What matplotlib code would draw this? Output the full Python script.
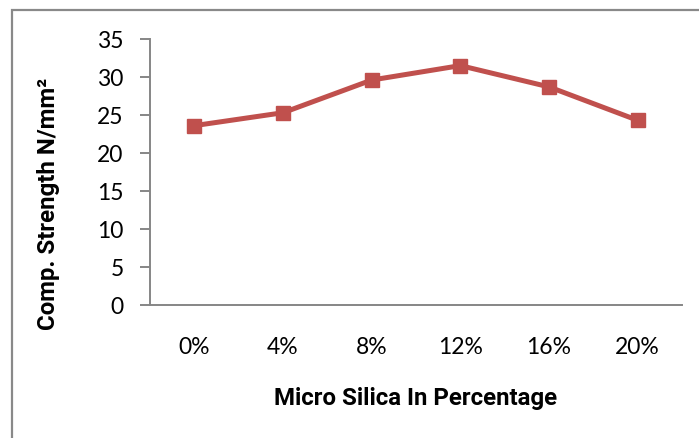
import matplotlib
matplotlib.use("Agg")
import matplotlib.pyplot as plt
from matplotlib.patches import Rectangle

# data
categories = ["0%", "4%", "8%", "12%", "16%", "20%"]
strength = [23.6, 25.3, 29.6, 31.5, 28.7, 24.3]
yticks = [0, 5, 10, 15, 20, 25, 30, 35]

W, H = 699, 438
fig = plt.figure(figsize=(W / 100, H / 100), dpi=100)
ax = fig.add_axes([150 / W, 1 - 305 / H, 532 / W, 266 / H])

x = list(range(len(categories)))
ax.plot(x, strength, color="#C0504D", lw=3.6, marker="s", ms=10.5,
        mfc="#C0504D", mec="#C0504D", solid_joinstyle="miter")

ax.set_xlim(-0.5, len(categories) - 0.5)
ax.set_ylim(0, 35)
ax.set_xticks(x)
ax.set_xticklabels(categories)
ax.set_yticks(yticks)

for s in ["top", "right"]:
    ax.spines[s].set_visible(False)
for s in ["left", "bottom"]:
    ax.spines[s].set_color("#868686")
    ax.spines[s].set_linewidth(1.4)

tick_family = ["Lato", "DejaVu Sans"]
ax.tick_params(axis="y", length=7, width=1.4, color="#868686", pad=12)
ax.tick_params(axis="x", length=0, pad=23)
for lab in ax.get_xticklabels() + ax.get_yticklabels():
    lab.set_fontfamily(tick_family)
    lab.set_fontsize(16.5)

lab_font = dict(family=["Roboto", "DejaVu Sans"], size=17.3, weight="bold")
fig.text(416 / W, 1 - 398 / H, "Micro Silica In Percentage", ha="center",
         va="center", **lab_font)
fig.text(49 / W, 1 - 204 / H, "Comp. Strength N/mm²", ha="center",
         va="center", rotation=90, **lab_font)

# outer chart-area border
fig.patches.append(Rectangle((12 / W, -0.1), 1.2, 1 - 10 / H + 0.1,
                             transform=fig.transFigure, fill=False,
                             edgecolor="#898989", lw=1.6))

fig.savefig("out.png", dpi=100)
